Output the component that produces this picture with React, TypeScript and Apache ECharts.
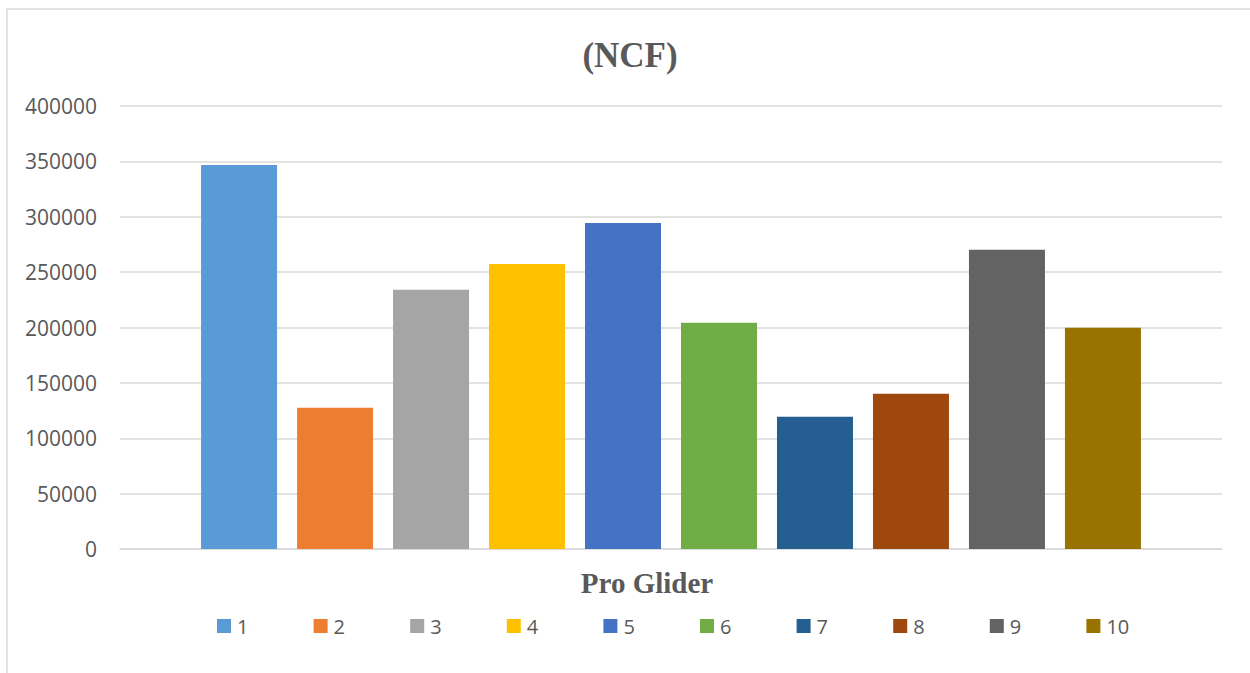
import React, { useEffect, useRef } from "react";
import * as echarts from "echarts";

// Chart content
const chartTitle = "(NCF)";
const categories = ["Pro Glider"];
const seriesNames = ["1", "2", "3", "4", "5", "6", "7", "8", "9", "10"];
const seriesValues = [346800, 127500, 234000, 257400, 294400, 204200, 119400, 140100, 270100, 199700];
const seriesColors = [
  "#5B9BD5", "#ED7D31", "#A5A5A5", "#FFC000", "#4472C4",
  "#70AD47", "#255E91", "#9E480E", "#636363", "#997300",
];
const yMin = 0;
const yMax = 400000;
const yStep = 50000;

const TEXT_GRAY = "#595959";
const GRID_GRAY = "#D9D9D9";
const SANS = "'Open Sans', 'Liberation Sans', sans-serif";
const SERIF = "'Liberation Serif', 'Times New Roman', serif";

// Legend row geometry
const LEGEND_LEFT = 217;
const LEGEND_Y = 626;
const LEGEND_PITCH = 96.6;
const LEGEND_BOX = 14;

export default function App() {
  const ref = useRef<HTMLDivElement>(null);

  useEffect(() => {
    if (!ref.current) return;
    const chart = echarts.init(ref.current, undefined, { renderer: "svg" });

    const series = seriesNames.map((name, i) => ({
      name,
      type: "bar",
      data: [seriesValues[i]],
      barWidth: 76,
      barGap: "26.3%",
      itemStyle: { color: seriesColors[i] },
    }));

    // Legend drawn as swatch + label pairs on a fixed pitch
    const legendItems = seriesNames.map((name, i) => {
      const x0 = LEGEND_LEFT + i * LEGEND_PITCH;
      return {
        type: "group",
        silent: true,
        children: [
          {
            type: "rect",
            shape: { x: x0, y: LEGEND_Y - LEGEND_BOX / 2, width: LEGEND_BOX, height: LEGEND_BOX },
            style: { fill: seriesColors[i] },
          },
          {
            type: "text",
            x: x0 + LEGEND_BOX + 6,
            y: LEGEND_Y,
            style: {
              text: name,
              fill: TEXT_GRAY,
              font: `20px ${SANS}`,
              textAlign: "left",
              textVerticalAlign: "middle",
            },
          },
        ],
      };
    });

    chart.setOption({
      animation: false,
      backgroundColor: "#FFFFFF",
      grid: { left: 120, right: 28, top: 106, bottom: 124, containLabel: false },
      xAxis: {
        type: "category",
        data: categories,
        axisLine: { show: true, lineStyle: { color: GRID_GRAY, width: 1.5 } },
        axisTick: { show: false },
        axisLabel: { show: false },
      },
      yAxis: {
        type: "value",
        min: yMin,
        max: yMax,
        interval: yStep,
        axisLine: { show: false },
        axisTick: { show: false },
        splitLine: { show: true, lineStyle: { color: GRID_GRAY, width: 1.5 } },
        axisLabel: {
          margin: 23,
          color: TEXT_GRAY,
          fontFamily: SANS,
          fontSize: 21,
          formatter: (v: number) => String(v),
        },
      },
      graphic: [
        {
          type: "rect",
          silent: true,
          shape: { x: 7, y: 9, width: 1300, height: 700 },
          style: { fill: "none", stroke: GRID_GRAY, lineWidth: 1.5 },
        },
        {
          type: "text",
          x: 630,
          y: 55,
          style: {
            text: chartTitle,
            fill: TEXT_GRAY,
            font: `bold 35px ${SERIF}`,
            textAlign: "center",
            textVerticalAlign: "middle",
          },
        },
        {
          type: "text",
          x: 647,
          y: 583,
          style: {
            text: categories[0],
            fill: TEXT_GRAY,
            font: `bold 29px ${SERIF}`,
            textAlign: "center",
            textVerticalAlign: "middle",
          },
        },
        ...legendItems,
      ],
      series,
    });

    return () => chart.dispose();
  }, []);

  return (
    <div
      ref={ref}
      style={{ position: "absolute", left: 0, top: 0, width: 1250, height: 673 }}
    />
  );
}
